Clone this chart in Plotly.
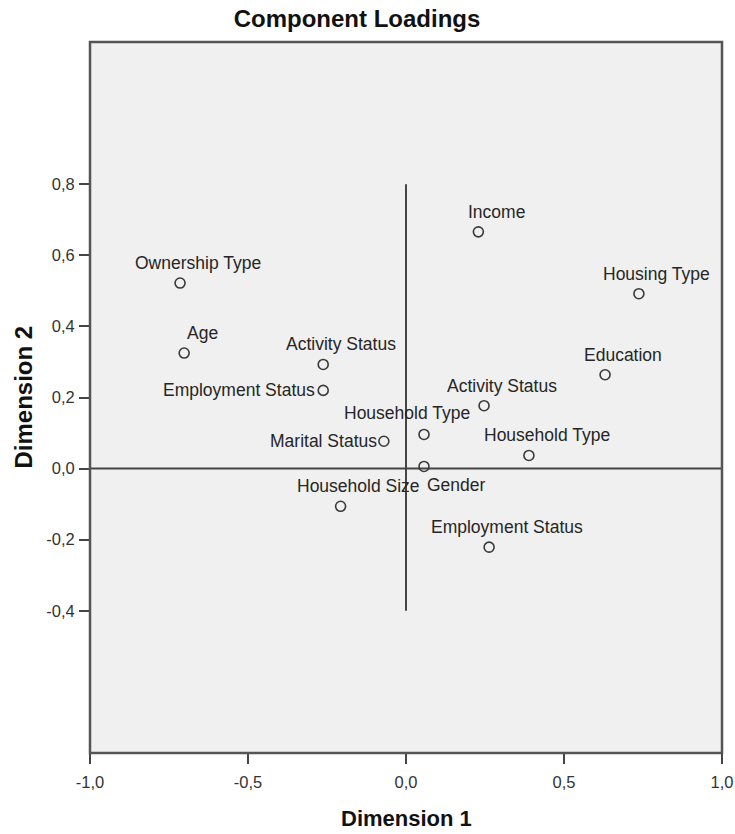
import plotly.graph_objects as go

# Component loadings of the variables on the two dimensions
variables = [
    "Ownership Type", "Age", "Activity Status", "Employment Status",
    "Marital Status", "Household Size", "Income", "Housing Type",
    "Education", "Activity Status", "Household Type", "Household Type",
    "Gender", "Employment Status",
]
dim1 = [-0.715, -0.702, -0.262, -0.262, -0.070, -0.207, 0.229, 0.737,
        0.630, 0.247, 0.057, 0.389, 0.057, 0.263]
dim2 = [0.522, 0.325, 0.293, 0.220, 0.077, -0.106, 0.666, 0.492,
        0.264, 0.177, 0.096, 0.037, 0.006, -0.221]

x_ticks = [-1.0, -0.5, 0.0, 0.5, 1.0]
x_tick_text = ["-1,0", "-0,5", "0,0", "0,5", "1,0"]
y_ticks = [-0.4, -0.2, 0.0, 0.2, 0.4, 0.6, 0.8]
y_tick_text = ["-0,4", "-0,2", "0,0", "0,2", "0,4", "0,6", "0,8"]

# label placement (pixel shifts, anchor) per point index
default_place = dict(xshift=18, yshift=20, xanchor="center")
special_place = {
    3: dict(xshift=-6, yshift=0, xanchor="right"),
    4: dict(xshift=-5, yshift=0, xanchor="right"),
    10: dict(xshift=-17, yshift=21, xanchor="center"),
    12: dict(xshift=32, yshift=-19, xanchor="center"),
}

FONT = "Liberation Sans, Arial, sans-serif"
LINE = "#454545"

fig = go.Figure()

# reference axes through the origin
fig.add_trace(go.Scatter(x=[0, 0], y=[-0.4, 0.8], mode="lines",
                         line=dict(color=LINE, width=2), hoverinfo="skip",
                         showlegend=False))
fig.add_trace(go.Scatter(x=[-1, 1], y=[0, 0], mode="lines",
                         line=dict(color=LINE, width=2), hoverinfo="skip",
                         showlegend=False))

fig.add_trace(go.Scatter(
    x=dim1, y=dim2, mode="markers", text=variables,
    marker=dict(symbol="circle-open", size=10, color="#3a3a3a",
                line=dict(width=1.6, color="#3a3a3a")),
    showlegend=False,
))

annotations = []
for i, name in enumerate(variables):
    place = special_place.get(i, default_place)
    annotations.append(dict(
        x=dim1[i], y=dim2[i], xref="x", yref="y", text=name,
        showarrow=False, xanchor=place["xanchor"], yanchor="middle",
        xshift=place["xshift"], yshift=place["yshift"],
        font=dict(family=FONT, size=17.5, color="#262626"),
    ))

# axis titles
annotations.append(dict(
    x=0.5, y=0, xref="paper", yref="paper", text="<b>Dimension 1</b>",
    showarrow=False, xanchor="center", yanchor="middle", yshift=-65,
    font=dict(family=FONT, size=22, color="#111111"),
))
annotations.append(dict(
    x=0, y=0.5, xref="paper", yref="paper", text="<b>Dimension 2</b>",
    showarrow=False, xanchor="center", yanchor="middle", xshift=-67,
    textangle=-90, font=dict(family=FONT, size=24, color="#111111"),
))

fig.update_layout(
    width=735, height=834, autosize=False,
    margin=dict(l=90, r=13, t=42, b=81, autoexpand=False),
    paper_bgcolor="white", plot_bgcolor="#f0f0f0",
    title=dict(text="<b>Component Loadings</b>", x=357 / 735,
               xanchor="center", y=1 - 19 / 834, yanchor="middle",
               font=dict(family=FONT, size=24, color="#111111")),
    annotations=annotations,
    shapes=[dict(type="rect", xref="paper", yref="paper", x0=0, y0=0,
                 x1=1, y1=1, line=dict(color="#555555", width=2.5),
                 layer="above")],
)
fig.layout.title.xref = "container"

fig.update_xaxes(range=[-1, 1], tickvals=x_ticks, ticktext=x_tick_text,
                 ticks="outside", ticklen=10, tickwidth=2, tickcolor=LINE,
                 showgrid=False, zeroline=False, showline=False,
                 automargin=False,
                 tickfont=dict(family=FONT, size=16.5, color="#333333"),
                 ticklabelstandoff=4)
fig.update_yaxes(range=[-0.8, 1.2], tickvals=y_ticks, ticktext=y_tick_text,
                 ticks="outside", ticklen=10, tickwidth=2, tickcolor=LINE,
                 showgrid=False, zeroline=False, showline=False,
                 automargin=False,
                 tickfont=dict(family=FONT, size=16.5, color="#333333"),
                 ticklabelstandoff=1)

fig.write_html("out.html")
